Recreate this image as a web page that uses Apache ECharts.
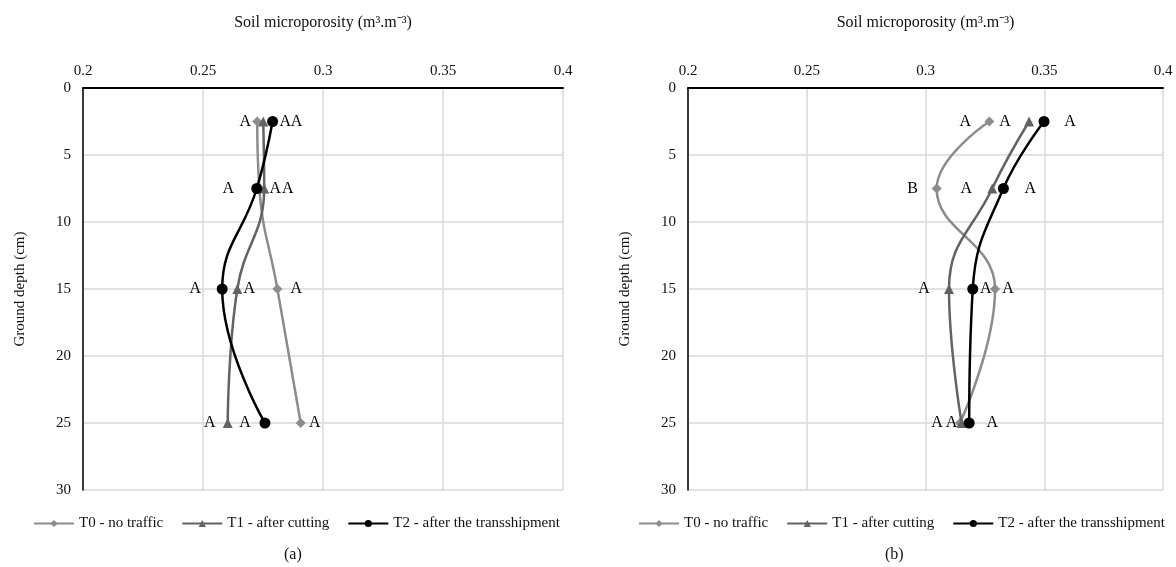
<!DOCTYPE html>
<html>
<head>
<meta charset="utf-8">
<script src="https://cdn.jsdelivr.net/npm/echarts@6/dist/echarts.min.js"></script>
<style>
html,body{margin:0;padding:0;background:#fff;}
#c{width:1176px;height:567px;}
</style>
</head>
<body>
<div id="c"></div>
<script>
// ---- data ----
const depths = [2.5, 7.5, 15, 25];
const seriesNames = ['T0 - no traffic', 'T1 - after cutting', 'T2 - after the transshipment'];
// panel (a)
const aT0 = [0.2726, 0.2735, 0.2810, 0.2907];
const aT1 = [0.2751, 0.2755, 0.2643, 0.2603];
const aT2 = [0.2790, 0.2724, 0.2580, 0.2758];
const aT0Grp = ['A', 'A', 'A', 'A'];
const aT1Grp = ['A', 'A', 'A', 'A'];
const aT2Grp = ['A', 'A', 'A', 'A'];
// panel (b)
const bT0 = [0.3269, 0.3047, 0.3293, 0.3145];
const bT1 = [0.3436, 0.3281, 0.3099, 0.3152];
const bT2 = [0.3499, 0.3328, 0.3199, 0.3184];
const bT0Grp = ['A', 'B', 'A', 'A'];
const bT1Grp = ['A', 'A', 'A', 'A'];
const bT2Grp = ['A', 'A', 'A', 'A'];
const xTickMin = 0.2, xTickMax = 0.4, xTickStep = 0.05;
const yTickMin = 0, yTickMax = 30, yTickStep = 5;
const panelCaptions = ['(a)', '(b)'];

// ---- layout (label horizontal offsets, px) ----
const aT0Dx = [-12, -31, 19, 14];
const aT1Dx = [22, 11, 12, -18];
const aT2Dx = [24, 31, -27, -20];
const bT0Dx = [-24, -24, 13, -23];
const bT1Dx = [-24, -26, -25, -10];
const bT2Dx = [26, 27, 13, 23];

const FONT = 'Liberation Serif';
const styles = [
  {color: '#8c8c8c', symbol: 'diamond', size: 10},
  {color: '#636363', symbol: 'triangle', size: 10},
  {color: '#000000', symbol: 'circle', size: 11}
];

function mk(vals, grps, dxs, idx, panel) {
  const st = styles[idx];
  return {
    name: seriesNames[idx],
    type: 'line',
    xAxisIndex: panel, yAxisIndex: panel,
    smooth: 0.45,
    symbol: st.symbol,
    symbolSize: st.size,
    z: 2 + idx,
    lineStyle: {color: st.color, width: 2.5},
    itemStyle: {color: st.color},
    data: vals.map((v, i) => ({
      value: [v, depths[i]],
      label: {show: true, formatter: grps[i], position: 'inside', offset: [dxs[i], 0],
        color: '#000', fontFamily: FONT, fontSize: 16}
    })),
    animation: false
  };
}

function xAx(i) {
  return {
    type: 'value', gridIndex: i, position: 'top',
    min: xTickMin, max: xTickMax, interval: xTickStep,
    name: 'Soil microporosity (m³.m⁻³)', nameLocation: 'middle', nameGap: 57,
    nameTextStyle: {fontFamily: FONT, fontSize: 16, color: '#111'},
    axisLine: {show: true, onZero: false, lineStyle: {color: '#000', width: 2}},
    axisTick: {show: false},
    axisLabel: {fontFamily: FONT, fontSize: 15, color: '#111', margin: 9},
    splitLine: {show: true, lineStyle: {color: '#d9d9d9', width: 1.5}}
  };
}
function yAx(i) {
  return {
    type: 'value', gridIndex: i, inverse: true,
    min: yTickMin, max: yTickMax, interval: yTickStep,
    name: 'Ground depth (cm)', nameLocation: 'middle', nameGap: 55, nameRotate: 90,
    nameTextStyle: {fontFamily: FONT, fontSize: 15, color: '#111'},
    axisLine: {show: true, onZero: false, lineStyle: {color: '#000', width: 1.5}},
    axisTick: {show: false},
    axisLabel: {fontFamily: FONT, fontSize: 15, color: '#111', margin: 12},
    splitLine: {show: true, lineStyle: {color: '#d9d9d9', width: 1.5}}
  };
}

const chart = echarts.init(document.getElementById('c'), null, {renderer: 'canvas'});
chart.setOption({
  animation: false,
  backgroundColor: '#fff',
  grid: [
    {left: 83, top: 88, width: 480, height: 402},
    {left: 688, top: 88, width: 475, height: 402}
  ],
  xAxis: [xAx(0), xAx(1)],
  yAxis: [yAx(0), yAx(1)],
  legend: [
    {left: 28, top: 511, data: seriesNames, itemWidth: 40, itemHeight: 9, itemGap: 18,
     textStyle: {fontFamily: FONT, fontSize: 15, color: '#111'}},
    {left: 633, top: 511, data: seriesNames, itemWidth: 40, itemHeight: 9, itemGap: 18,
     textStyle: {fontFamily: FONT, fontSize: 15, color: '#111'}}
  ],
  graphic: [
    {type: 'text', left: 284, top: 547, style: {text: panelCaptions[0], font: '16px "Liberation Serif"', fill: '#111'}},
    {type: 'text', left: 885, top: 547, style: {text: panelCaptions[1], font: '16px "Liberation Serif"', fill: '#111'}}
  ],
  series: [
    mk(aT0, aT0Grp, aT0Dx, 0, 0),
    mk(aT1, aT1Grp, aT1Dx, 1, 0),
    mk(aT2, aT2Grp, aT2Dx, 2, 0),
    mk(bT0, bT0Grp, bT0Dx, 0, 1),
    mk(bT1, bT1Grp, bT1Dx, 1, 1),
    mk(bT2, bT2Grp, bT2Dx, 2, 1)
  ]
});
</script>
</body>
</html>
